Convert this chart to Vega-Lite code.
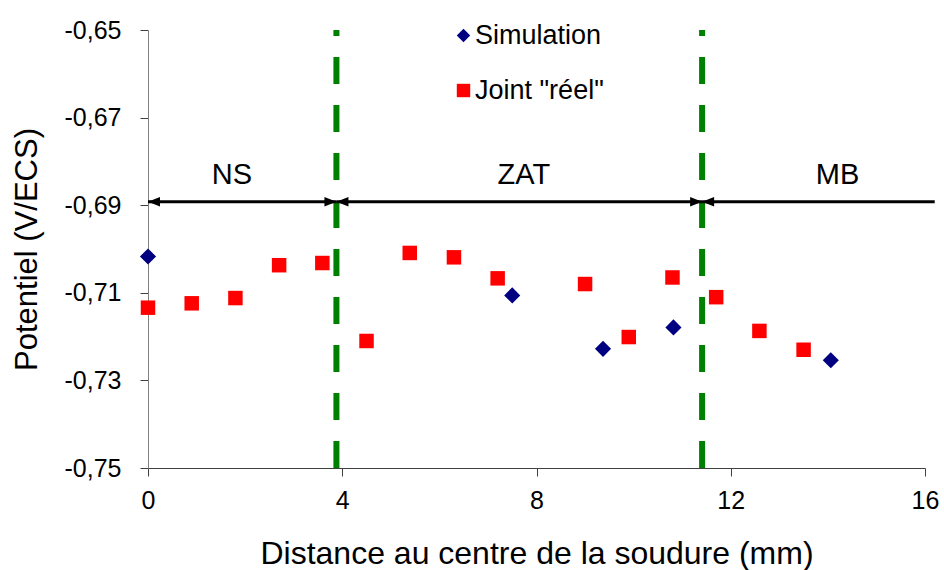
{
  "$schema": "https://vega.github.io/schema/vega-lite/v6.json",
  "width": 777,
  "height": 438,
  "autosize": "none",
  "padding": {"left": 148, "top": 30, "right": 19, "bottom": 102},
  "background": "white",
  "config": {
    "view": {"stroke": null},
    "font": "Liberation Sans",
    "axis": {"grid": false, "labelFont": "Liberation Sans", "titleFont": "Liberation Sans", "labelColor": "black", "titleColor": "black", "titleFontWeight": "normal", "tickSize": 8, "labelFlush": false}
  },
  "resolve": {"scale": {"shape": "independent", "color": "independent"}},
  "datasets": {
    "points": [
      {"serie": "Simulation", "x": 0.0, "y": -0.7017},
      {"serie": "Simulation", "x": 7.50, "y": -0.7106},
      {"serie": "Simulation", "x": 9.37, "y": -0.7228},
      {"serie": "Simulation", "x": 10.82, "y": -0.7179},
      {"serie": "Simulation", "x": 14.06, "y": -0.7254},
      {"serie": "Joint \"réel\"", "x": 0.0, "y": -0.7134},
      {"serie": "Joint \"réel\"", "x": 0.90, "y": -0.7124},
      {"serie": "Joint \"réel\"", "x": 1.80, "y": -0.7112},
      {"serie": "Joint \"réel\"", "x": 2.70, "y": -0.7037},
      {"serie": "Joint \"réel\"", "x": 3.59, "y": -0.7032},
      {"serie": "Joint \"réel\"", "x": 4.50, "y": -0.7210},
      {"serie": "Joint \"réel\"", "x": 5.39, "y": -0.7009},
      {"serie": "Joint \"réel\"", "x": 6.30, "y": -0.7019},
      {"serie": "Joint \"réel\"", "x": 7.20, "y": -0.7067},
      {"serie": "Joint \"réel\"", "x": 9.00, "y": -0.7080},
      {"serie": "Joint \"réel\"", "x": 9.90, "y": -0.7201},
      {"serie": "Joint \"réel\"", "x": 10.80, "y": -0.7065},
      {"serie": "Joint \"réel\"", "x": 11.70, "y": -0.7110},
      {"serie": "Joint \"réel\"", "x": 12.59, "y": -0.7187},
      {"serie": "Joint \"réel\"", "x": 13.50, "y": -0.7230}
    ],
    "bounds": [{"x": 3.88}, {"x": 11.41}],
    "zones": [
      {"zone": "NS", "x": 0, "x2": 3.88, "xl": 1.73},
      {"zone": "ZAT", "x": 3.88, "x2": 11.41, "xl": 7.74},
      {"zone": "MB", "x": 11.41, "x2": 16.2, "xl": 14.2}
    ],
    "heads": [
      {"x": 0, "dir": "left"},
      {"x": 3.88, "dir": "right"},
      {"x": 3.88, "dir": "left"},
      {"x": 11.41, "dir": "right"},
      {"x": 11.41, "dir": "left"}
    ]
  },
  "layer": [
    {
      "data": {"name": "bounds"},
      "mark": {"type": "rule", "color": "#008000", "strokeWidth": 6, "strokeDash": [27, 21], "strokeCap": "butt"},
      "encoding": {
        "x": {"field": "x", "type": "quantitative", "scale": {"domain": [0, 16]}},
        "y": {"datum": -0.75, "type": "quantitative", "scale": {"domain": [-0.75, -0.65]}},
        "y2": {"datum": -0.65}
      }
    },
    {
      "data": {"name": "zones"},
      "mark": {"type": "rule", "color": "black", "strokeWidth": 3, "clip": false},
      "encoding": {
        "x": {"field": "x", "type": "quantitative"},
        "x2": {"field": "x2"},
        "y": {"datum": -0.6892, "type": "quantitative"}
      }
    },
    {
      "data": {"name": "heads"},
      "mark": {"type": "point", "filled": true, "color": "black", "size": 144, "opacity": 1},
      "encoding": {
        "x": {"field": "x", "type": "quantitative"},
        "y": {"datum": -0.6892, "type": "quantitative"},
        "shape": {"field": "dir", "type": "nominal", "legend": null, "scale": {"domain": ["left", "right"], "range": ["M0,0L2,-0.8L2,0.8Z", "M0,0L-2,-0.8L-2,0.8Z"]}}
      }
    },
    {
      "data": {"name": "zones"},
      "mark": {"type": "text", "fontSize": 29, "font": "Liberation Sans", "color": "black", "baseline": "middle", "align": "center"},
      "encoding": {
        "x": {"field": "xl", "type": "quantitative"},
        "y": {"datum": -0.6830, "type": "quantitative"},
        "text": {"field": "zone"}
      }
    },
    {
      "data": {"name": "points"},
      "mark": {"type": "point", "filled": true, "opacity": 1},
      "encoding": {
        "x": {
          "field": "x", "type": "quantitative",
          "scale": {"domain": [0, 16]},
          "axis": {"values": [0, 4, 8, 12, 16], "title": "Distance au centre de la soudure (mm)", "titleFontSize": 32, "titlePadding": 25, "labelFontSize": 25, "labelPadding": 12, "domainColor": "#404040", "tickColor": "#404040"}
        },
        "y": {
          "field": "y", "type": "quantitative",
          "scale": {"domain": [-0.75, -0.65]},
          "axis": {"values": [-0.75, -0.73, -0.71, -0.69, -0.67, -0.65], "labelExpr": "replace(replace(format(datum.value, '.2f'), '.', ','), '\u2212', '-')", "title": "Potentiel (V/ECS)", "titleFontSize": 31, "titlePadding": 21, "labelFontSize": 25, "labelPadding": 19, "domainColor": "#808080", "tickColor": "#404040"}
        },
        "size": {"field": "serie", "type": "nominal", "legend": null, "scale": {"domain": ["Simulation", "Joint \"réel\""], "range": [260, 210]}},
        "shape": {"field": "serie", "type": "nominal", "scale": {"domain": ["Simulation", "Joint \"réel\""], "range": ["diamond", "square"]}},
        "color": {"field": "serie", "type": "nominal", "scale": {"domain": ["Simulation", "Joint \"réel\""], "range": ["#000080", "#FF0000"]},
          "legend": {"orient": "none", "legendX": 302, "legendY": -8, "title": null, "labelFontSize": 27, "labelFont": "Liberation Sans", "labelColor": "black", "symbolSize": 180, "symbolStrokeWidth": 0, "rowPadding": 27, "labelOffset": -2, "padding": 0}}
      }
    }
  ]
}
